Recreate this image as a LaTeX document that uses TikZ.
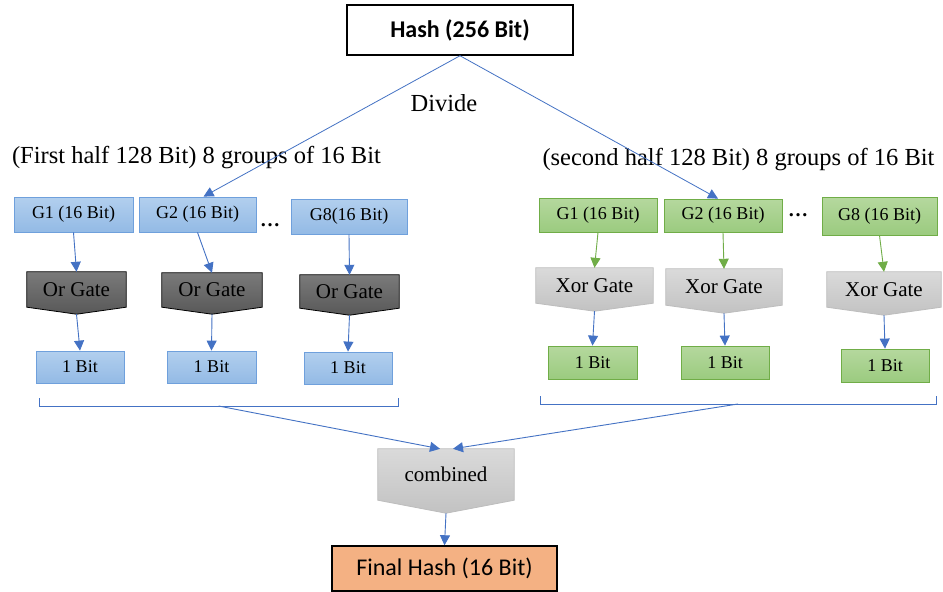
\documentclass[tikz,border=0pt]{standalone}
\usepackage{fontspec}
\setmainfont{Liberation Serif}
\newfontfamily\calibri{Carlito}
\usetikzlibrary{arrows.meta,calc}

\definecolor{arrowblue}{HTML}{4472C4}
\definecolor{lineblue}{HTML}{5B8BD6}
\definecolor{blueedge}{HTML}{6FA0DC}
\definecolor{bluetop}{HTML}{B2CFEE}
\definecolor{bluebot}{HTML}{93BAE5}
\definecolor{greenedge}{HTML}{70AD47}
\definecolor{greentop}{HTML}{B5D89E}
\definecolor{greenbot}{HTML}{9BCB7F}
\definecolor{darktop}{HTML}{7A7A7A}
\definecolor{darkbot}{HTML}{585858}
\definecolor{lighttop}{HTML}{DADADA}
\definecolor{lightbot}{HTML}{C2C2C2}
\definecolor{lightedge}{HTML}{BDBDBD}
\definecolor{orangefill}{HTML}{F4B183}

\tikzset{
  x=1pt, y=-1pt,
  bluebox/.style={draw=blueedge, line width=0.8pt, top color=bluetop, bottom color=bluebot,
    inner sep=0pt, font=\fontsize{18}{20}\selectfont},
  greenbox/.style={draw=greenedge, line width=0.8pt, top color=greentop, bottom color=greenbot,
    inner sep=0pt, font=\fontsize{18}{20}\selectfont},
  orgate/.style={draw=black, line width=0.8pt, top color=darktop, bottom color=darkbot},
  xorgate/.style={draw=lightedge, line width=0.8pt, top color=lighttop, bottom color=lightbot},
  gatetext/.style={font=\fontsize{21}{23}\selectfont},
  headtext/.style={font=\fontsize{24.5}{27}\selectfont},
  conn/.style={draw=arrowblue, line width=0.9pt, -{Triangle[length=10pt,width=10pt]}},
  gconn/.style={draw=greenedge, line width=0.9pt, -{Triangle[length=10pt,width=10pt]}},
  split/.style={draw=lineblue, line width=0.8pt},
  brace/.style={draw=arrowblue, line width=0.8pt},
}

% pentagon-shaped gate: name, cx, cy, width, height, tip depth, style, label
\newcommand{\gatenode}[8]{%
  \node[minimum width=#4pt, minimum height=#5pt, inner sep=0pt] (#1) at (#2,#3) {};
  \path[#7] (#1.north west) -- (#1.north east) -- (#1.south east)
     -- ($(#1.south)+(0,#6)$) -- (#1.south west) -- cycle;
  \coordinate (#1tip) at ($(#1.south)+(0,#6)$);
  \node[gatetext] at (#1) {#8};
}

\begin{document}
\begin{tikzpicture}
\useasboundingbox[fill=white] (0,0) rectangle (943,592);

% top hash
\node[draw=black, line width=1.5pt, fill=white, minimum width=226pt, minimum height=50pt,
  inner sep=0pt, font=\calibri\bfseries\fontsize{24}{26}\selectfont] (hash) at (460,30) {Hash (256 Bit)};
\node[headtext] (divide) at (444,103) {Divide};

% half headings
\node[headtext] (lhead) at (196.5,158) {(First half 128 Bit) 8 groups of 16 Bit};
\node[headtext] (rhead) at (738.5,160) {(second half 128 Bit) 8 groups of 16 Bit};

% first half: groups
\node[bluebox, minimum width=119pt, minimum height=35pt] (gl1) at (73.5,214.5) {G1 (16 Bit)};
\node[bluebox, minimum width=117pt, minimum height=35pt] (gl2) at (197.5,214.5) {G2 (16 Bit)};
\node[bluebox, minimum width=116pt, minimum height=35pt] (gl8) at (349,216.5) {G8(16 Bit)};
\node[font=\bfseries\fontsize{20}{22}\selectfont] (ldots) at (270,225) {…};

% second half: groups
\node[greenbox, minimum width=118pt, minimum height=34pt] (gr1) at (598,215) {G1 (16 Bit)};
\node[greenbox, minimum width=118pt, minimum height=33pt] (gr2) at (723,215.5) {G2 (16 Bit)};
\node[greenbox, minimum width=115pt, minimum height=38pt] (gr8) at (879.5,216) {G8 (16 Bit)};
\node[font=\bfseries\fontsize{20}{22}\selectfont] (rdots) at (798,215) {…};

% gates
\gatenode{ol1}{76.5}{289.5}{99}{35}{7}{orgate}{Or Gate}
\gatenode{ol2}{212}{290}{100}{34}{7}{orgate}{Or Gate}
\gatenode{ol8}{349.5}{291.5}{99}{33}{7}{orgate}{Or Gate}
\gatenode{xr1}{594.5}{285.5}{117}{35}{8}{xorgate}{Xor Gate}
\gatenode{xr2}{724}{287}{116}{36}{8}{xorgate}{Xor Gate}
\gatenode{xr8}{884}{289.5}{114}{35}{8}{xorgate}{Xor Gate}

% single bits
\node[bluebox, minimum width=88pt, minimum height=32pt] (bl1) at (80,367) {1 Bit};
\node[bluebox, minimum width=89pt, minimum height=32pt] (bl2) at (211.5,367) {1 Bit};
\node[bluebox, minimum width=88pt, minimum height=32pt] (bl8) at (348,368) {1 Bit};
\node[greenbox, minimum width=89pt, minimum height=33pt] (br1) at (592.5,362.5) {1 Bit};
\node[greenbox, minimum width=88pt, minimum height=33pt] (br2) at (725,362.5) {1 Bit};
\node[greenbox, minimum width=88pt, minimum height=33pt] (br8) at (885,365.5) {1 Bit};

% combining stage and result
\gatenode{comb}{446}{474.5}{136}{51}{13}{xorgate}{combined}
\node[draw=black, line width=1.5pt, fill=orangefill, minimum width=225pt, minimum height=45pt,
  inner sep=0pt, font=\calibri\fontsize{24}{26}\selectfont] (final) at (444.5,568.5) {Final Hash (16 Bit)};

% division lines
\draw[split, -{Triangle[length=10pt,width=10pt]}, arrowblue] (hash.south) -- ([xshift=6pt]gl2.north);
\draw[split, -{Triangle[length=10pt,width=10pt]}, arrowblue] (hash.south) -- ([xshift=-5pt]gr2.north);

% group -> gate -> bit
\foreach \i in {1,2,8} {
  \draw[conn] (gl\i.south) -- (ol\i.north);
  \draw[conn] (ol\i tip) -- (bl\i.north);
  \draw[gconn] (gr\i.south) -- (xr\i.north);
  \draw[conn] (xr\i tip) -- (br\i.north);
}

% braces under each half
\coordinate (lba) at (39,398);
\coordinate (lbb) at (39,406);
\coordinate (lbc) at (398,406);
\coordinate (lbd) at (398,398);
\coordinate (lbm) at (218.5,406);
\draw[brace] (lba) -- (lbb) -- (lbc) -- (lbd);
\coordinate (rba) at (540,396);
\coordinate (rbb) at (540,404);
\coordinate (rbc) at (936,404);
\coordinate (rbd) at (936,396);
\coordinate (rbm) at (738,404);
\draw[brace] (rba) -- (rbb) -- (rbc) -- (rbd);

\draw[conn] (lbm) -- ([xshift=-6pt]comb.north);
\draw[conn] (rbm) -- ([xshift=7pt]comb.north);
\draw[conn] (combtip) -- (final.north);
\end{tikzpicture}
\end{document}
